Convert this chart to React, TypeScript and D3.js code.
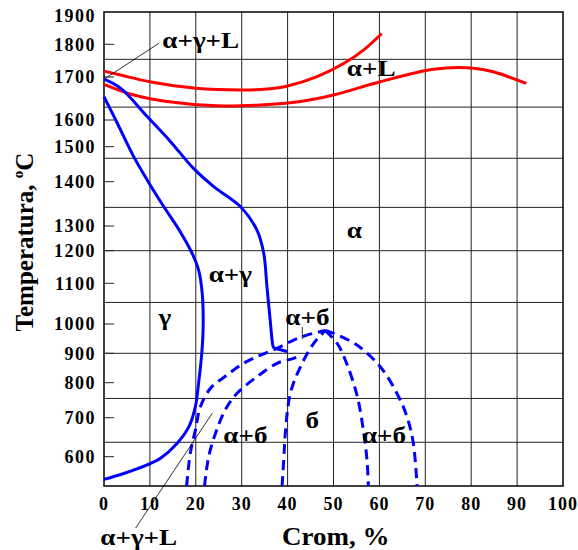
import React from 'react';
import * as d3 from 'd3';

// Cr content, %
const crTicks = [0, 10, 20, 30, 40, 50, 60, 70, 80, 90, 100];
// temperature labels on the left axis, °C
const tempTicks = [600, 700, 800, 900, 1000, 1100, 1200, 1300, 1400, 1500, 1600, 1700, 1800, 1900];
// horizontal rows of the printed grid, °C (they do not follow the labels)
const gridTemps = [637, 755, 900, 1053, 1200, 1342, 1467, 1630, 1754];

// curves, [Cr %, T °C]
const liquidusUpper = [
  [0, 1718], [3.6, 1706], [10, 1689], [20, 1674], [30, 1670], [35.5, 1672],
  [40, 1679], [46.4, 1701], [52.3, 1742], [56.6, 1783], [60.5, 1838],
];
const liquidusLower = [
  [0, 1683], [6.5, 1658], [13.7, 1643], [24.6, 1633], [34.1, 1635], [42.8, 1643],
  [50, 1658], [60.2, 1689], [71.8, 1724], [80.5, 1727], [84.8, 1716], [92, 1685],
];
const alphaGammaLine = [
  [0, 1695], [3.6, 1674], [9.4, 1608], [14.5, 1519], [19.5, 1438], [23.9, 1389],
  [29.7, 1344], [33.3, 1284], [34.8, 1192], [35.5, 1092], [36.2, 1010], [36.8, 925], [37, 918],
];
const alphaGammaTail = [[37, 918], [39.9, 906]];
const gammaLoop = [
  [0, 1654], [2.9, 1588], [6.5, 1471], [9.4, 1405], [13, 1344], [16.6, 1277],
  [19.2, 1192], [20.6, 1141], [21.4, 1075], [21.6, 991], [21.3, 900], [20.6, 798],
  [19.9, 731], [18.5, 677], [15.9, 634], [12.3, 596], [9.4, 579], [4.3, 557], [0, 542],
];
const sigmaOuter = [
  [18, 525], [18.8, 609], [19.9, 668], [21, 731], [23.2, 784], [26.8, 826], [30.4, 866],
  [34.1, 894], [37.7, 917], [41.3, 945], [44.2, 962], [48.2, 978], [50, 968], [55.1, 928],
  [60.2, 854], [63.8, 770], [66, 703], [67.4, 634], [68.2, 525],
];
const sigmaInnerLeft = [
  [21.9, 525], [22.8, 600], [24.3, 660], [26.4, 722], [29, 770], [33.3, 820],
  [37.7, 866], [41.3, 883], [43.1, 894],
];
const sigmaArch = [
  [38.8, 525], [39.2, 600], [39.5, 660], [40.6, 770], [42.8, 854], [45.7, 934], [48.2, 977],
  [50.8, 934], [52.9, 864], [55.2, 760], [56.6, 660], [57.3, 591], [57.6, 525],
];

// phase labels: text, Cr %, T °C (baseline)
const phaseLabels = [
  ['α+γ+L', 12.7, 1789],
  ['α+L', 52.9, 1703],
  ['α', 52.9, 1251],
  ['α+γ', 22.8, 1104],
  ['γ', 11.9, 995],
  ['α+б', 39.5, 995],
  ['б', 43.9, 674],
  ['α+б', 26, 635],
  ['α+б', 56.2, 635],
];

const margin = { top: 12, right: 15, bottom: 64, left: 104 };
const W = 578;
const H = 550;
const width = W - margin.left - margin.right;
const height = H - margin.top - margin.bottom;
const font = '"Liberation Serif", "Times New Roman", serif';

export default function App() {
  const x = d3.scaleLinear().domain([0, 100]).range([0, width]);
  // the original sheet has uneven temperature spacing, so the scale is piecewise
  const y = d3
    .scaleLinear()
    .domain([525, ...tempTicks, 1925])
    .range([474, 444.7, 405.7, 370.7, 341.3, 312, 271.3, 238.7, 214, 169.7, 134.7, 108, 65, 32.3, 4, 0]);

  const line = d3
    .line()
    .x((d) => x(d[0]))
    .y((d) => y(d[1]))
    .curve(d3.curveCatmullRom.alpha(0.5));
  const straight = d3.line().x((d) => x(d[0])).y((d) => y(d[1]));

  const splitAtPeak = (pts) => {
    const i = d3.maxIndex(pts, (d) => d[1]);
    return [pts.slice(0, i + 1), pts.slice(i)];
  };

  const dashed = [sigmaInnerLeft, ...splitAtPeak(sigmaOuter), ...splitAtPeak(sigmaArch)];

  return (
    <svg
      width={W}
      height={H}
      style={{ position: 'absolute', left: 0, top: 0, background: '#fff' }}
      fontFamily={font}
      fontWeight="bold"
    >
      <g transform={`translate(${margin.left},${margin.top})`}>
        {crTicks.slice(1, -1).map((c) => (
          <line key={'v' + c} x1={x(c)} x2={x(c)} y1={0} y2={height} stroke="#222" strokeWidth={1} />
        ))}
        {gridTemps.map((t) => (
          <line key={'h' + t} x1={0} x2={width} y1={y(t)} y2={y(t)} stroke="#222" strokeWidth={1} />
        ))}
        {tempTicks
          .filter((t) => t < 1900)
          .map((t) => (
            <line key={'t' + t} x1={0} x2={10} y1={y(t)} y2={y(t)} stroke="#222" strokeWidth={1} />
          ))}
        <rect x={0} y={0} width={width} height={height} fill="none" stroke="#000" strokeWidth={1.5} />

        <path d={line(liquidusUpper)} fill="none" stroke="#ff0000" strokeWidth={3} />
        <path d={line(liquidusLower)} fill="none" stroke="#ff0000" strokeWidth={3} />
        <path d={line(alphaGammaLine)} fill="none" stroke="#0000ff" strokeWidth={3} />
        <path d={straight(alphaGammaTail)} fill="none" stroke="#0000ff" strokeWidth={3} />
        <path d={line(gammaLoop)} fill="none" stroke="#0000ff" strokeWidth={3} />
        {dashed.map((pts, i) => (
          <path key={'d' + i} d={line(pts)} fill="none" stroke="#0000ff" strokeWidth={3} strokeDasharray="10,6" />
        ))}

        {/* pointers */}
        <line x1={x(0.3)} y1={y(1697)} x2={x(12)} y2={y(1804)} stroke="#000" strokeWidth={0.8} />
        <line x1={x(23.6)} y1={y(713)} x2={x(6.9)} y2={height + 42} stroke="#000" strokeWidth={0.8} />
        <line x1={x(43.2)} y1={y(990)} x2={x(43.2)} y2={y(948)} stroke="#000" strokeWidth={0.8} />

        {phaseLabels.map(([s, c, t], i) => (
          <text key={'p' + i} transform={`translate(${x(c)},${y(t)}) scale(1.18,1)`} fontSize={23} fill="#000">
            {s}
          </text>
        ))}
        <text transform={`translate(${x(-0.8)},${height + 59}) scale(1.18,1)`} fontSize={23} fill="#000">
          α+γ+L
        </text>

        {tempTicks.map((t) => (
          <text key={'yl' + t} x={-8} y={y(t)} dy="0.35em" textAnchor="end" fontSize={18} letterSpacing={1.5} fill="#000">
            {t}
          </text>
        ))}
        {crTicks.map((c) => (
          <text key={'xl' + c} x={x(c)} y={height + 24} textAnchor="middle" fontSize={18} letterSpacing={1} fill="#000">
            {c}
          </text>
        ))}

        <text transform={`translate(${x(50.5)},${height + 59}) scale(1.08,1)`} textAnchor="middle" fontSize={25} fill="#000">
          Crom, %
        </text>
        <text transform={`translate(${-71},${230}) rotate(-90)`} textAnchor="middle" fontSize={25} fill="#000">
          Temperatura,{' '}
          <tspan fontSize={15} dy={-10}>
            o
          </tspan>
          <tspan dy={10}>C</tspan>
        </text>
      </g>
    </svg>
  );
}
